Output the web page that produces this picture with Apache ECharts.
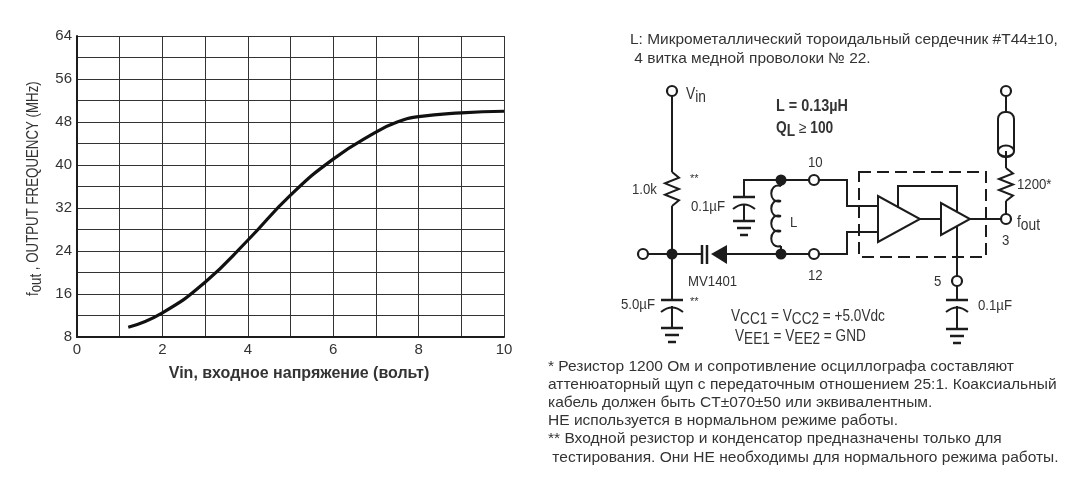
<!DOCTYPE html>
<html><head><meta charset="utf-8">
<style>html,body{margin:0;padding:0;background:#fff}#c{width:1073px;height:480px}</style>
<script src="https://cdn.jsdelivr.net/npm/echarts@6/dist/echarts.min.js"></script></head>
<body><div id="c"></div>
<script>
const vin = [1.2,2,3,4,5,6,7,7.5,8,9,10];
const fout = [9.8,12.5,18.2,26,34.4,41.1,46.1,48,49,49.7,50];
const xTickLabels = [0,2,4,6,8,10];
const yTickLabels = [8,16,24,32,40,48,56,64];
const xName = 'Vin, входное напряжение (вольт)';
const noteTop = ['L: Микрометаллический тороидальный сердечник #T44±10,',' 4 витка медной проволоки № 22.'];
const notes = ['* Резистор 1200 Ом и сопротивление осциллографа составляют',
 'аттенюаторный щуп с передаточным отношением 25:1. Коаксиальный',
 'кабель должен быть CT±070±50 или эквивалентным.',
 'НЕ используется в нормальном режиме работы.',
 '** Входной резистор и конденсатор предназначены только для',
 ' тестирования. Они НЕ необходимы для нормального режима работы.'];

const INK='#1c1c1c', TXT='#333', SANS='"Liberation Sans",sans-serif';
const g=[];
const line=(pts,w=2)=>g.push({type:'polyline',silent:true,shape:{points:pts},style:{stroke:INK,lineWidth:w,fill:null,lineJoin:'miter'}});
const open=(x,y,r=5)=>g.push({type:'circle',shape:{cx:x,cy:y,r},style:{fill:'#fff',stroke:INK,lineWidth:2.2}});
const dot=(x,y)=>g.push({type:'circle',shape:{cx:x,cy:y,r:5.5},style:{fill:INK,stroke:null}});
const txt=(x,y,t,size=15,sx=0.88,o={})=>g.push({type:'text',x,y,scaleX:sx,style:{text:t,font:`${o.bold?'bold ':''}${size}px ${SANS}`,fill:TXT,verticalAlign:'top',align:'left'}});
const rich=(x,y,parts,size=16,sx=0.86,o={})=>g.push(Object.assign({type:'text',x,y,scaleX:sx,style:{text:parts,fill:TXT,verticalAlign:'top',rich:{
  a:{font:`${size}px ${SANS}`,fill:TXT},
  b:{font:`${size}px ${SANS}`,fill:TXT,padding:[6,0,0,0]},
  A:{font:`bold ${size}px ${SANS}`,fill:TXT},
  B:{font:`bold ${size}px ${SANS}`,fill:TXT,padding:[6,0,0,0]}}}},o));
const res=(x,y0,y1)=>{const h=(y1-y0)/6;const p=[[x,y0]];[1,-1,1,-1,1].forEach((s,i)=>p.push([x+s*7,y0+h*(i+1)]));p.push([x,y1]);line(p,2)};
const cap=(x,y,hw=11)=>{line([[x-hw,y],[x+hw,y]],2.5);g.push({type:'bezierCurve',shape:{x1:x-hw,y1:y+12,x2:x+hw,y2:y+12,cpx1:x,cpy1:y+3},style:{stroke:INK,lineWidth:2,fill:null}});};
const gnd=(x,y)=>{line([[x-11,y],[x+11,y]],2.5);line([[x-7,y+7],[x+7,y+7]],2.5);line([[x-4,y+14],[x+4,y+14]],2.5)};

line([[672,96],[672,172]]);res(672,172,206);line([[672,206],[672,300]]);
line([[648,254],[702,254]]);open(643,254);open(672,91);dot(672,254);
cap(672,300);line([[672,306],[672,328]]);gnd(672,328);
line([[702,245],[702,264]],2.5);line([[707,245],[707,264]],2.5);
g.push({type:'polygon',shape:{points:[[711,254],[727,245],[727,264]]},style:{fill:INK}});
line([[727,254],[809,254]]);line([[781,180],[809,180]]);
line([[744,197],[744,180],[781,180]]);cap(744,197);line([[744,205],[744,221]]);gnd(744,221);
for(let i=0;i<4;i++){const y=186+i*15;g.push({type:'bezierCurve',shape:{x1:781,y1:y,cpx1:768,cpy1:y-4,cpx2:768,cpy2:y+19,x2:781,y2:y+15},style:{stroke:INK,lineWidth:2,fill:null}});}
line([[781,180],[781,186]]);line([[781,246],[781,254]]);
dot(781,180);dot(781,254);open(814,180);open(814,254);
line([[819,180],[847,180],[847,206],[878,206]]);line([[819,254],[847,254],[847,232],[878,232]]);
g.push({type:'rect',shape:{x:859,y:172,width:127,height:85},style:{fill:null,stroke:INK,lineWidth:2,lineDash:[12,6]}});
g.push({type:'polygon',shape:{points:[[878,196],[878,242],[920,219]]},style:{fill:'#fff',stroke:INK,lineWidth:2}});
g.push({type:'polygon',shape:{points:[[941,203],[941,235],[970,219]]},style:{fill:'#fff',stroke:INK,lineWidth:2}});
line([[920,219],[941,219]]);line([[970,219],[1001,219]]);
line([[898,208],[898,186],[957,186],[957,211]]);
line([[957,227],[957,276]]);open(957,281);line([[957,286],[957,300]]);cap(957,300);line([[957,306],[957,329]]);gnd(957,329);
open(1006,91);line([[1006,96],[1006,112]]);
g.push({type:'rect',shape:{x:998,y:112,width:16,height:45,r:7},style:{fill:'#fff',stroke:INK,lineWidth:2}});
g.push({type:'ellipse',shape:{cx:1006,cy:151,rx:8,ry:5.5},style:{fill:'#fff',stroke:INK,lineWidth:2}});
line([[1006,151],[1006,168]]);res(1006,168,201);line([[1006,201],[1006,214]]);open(1006,219);

rich(686,84,'{a|V}{b|in}',16);
txt(776,99,'L = 0.13µH',16,0.9,{bold:true});
rich(776,118,'{A|Q}{B|L}{a| ≥ }{A|100}',16);
txt(808,155,'10',15);txt(808,268,'12',15);
txt(632,182,'1.0k',15,0.88);txt(690,173,'**',11,1);
txt(691,199,'0.1µF',15);txt(790,215,'L',15);
txt(688,274,'MV1401',15);txt(621,297,'5.0µF',15);txt(690,296,'**',11,1);
rich(731,306,'{a|V}{b|CC1}{a| = V}{b|CC2}{a| = +5.0Vdc}',16,0.85);
rich(735,326,'{a|V}{b|EE1}{a| = V}{b|EE2}{a| = GND}',16,0.85);
txt(1017,177,'1200*',15,0.88);rich(1017,212,'{a|f}{b|out}',16);txt(1002,233,'3',15);txt(934,274,'5',15);txt(978,298,'0.1µF',15);
noteTop.forEach((t,i)=>txt(630,32+i*19.5,t,15,1.03));
notes.forEach((t,i)=>txt(548,359+i*18.2,t,15,1.035));
rich(23,296,'{a|f}{b|out}{a| , OUTPUT FREQUENCY (MHz)}',16,0.83,{rotation:Math.PI/2});

const chart=echarts.init(document.getElementById('c'),null,{renderer:'canvas'});
chart.setOption({
 animation:false,backgroundColor:'#fff',
 grid:{left:77,right:569,top:36,bottom:143,show:false},
 xAxis:{type:'value',min:0,max:10,interval:1,name:xName,nameLocation:'middle',nameGap:29,
  nameTextStyle:{fontFamily:'Liberation Sans',fontWeight:'bold',fontSize:16,color:TXT,padding:[0,0,0,17]},
  axisLine:{lineStyle:{color:INK,width:2}},axisTick:{show:false},
  axisLabel:{margin:5,color:TXT,fontFamily:'Liberation Sans',fontSize:15,
   formatter:v=>xTickLabels.includes(v)?String(v):''},
  splitLine:{show:true,lineStyle:{color:'#333',width:1}}},
 yAxis:{type:'value',min:8,max:64,interval:4,
  axisLine:{show:true,lineStyle:{color:INK,width:2}},axisTick:{show:false},
  axisLabel:{margin:5,color:TXT,fontFamily:'Liberation Sans',fontSize:15,
   formatter:v=>yTickLabels.includes(v)?String(v):''},
  splitLine:{show:true,lineStyle:{color:'#333',width:1}}},
 series:[{type:'line',data:vin.map((x,i)=>[x,fout[i]]),smooth:0.5,showSymbol:false,lineStyle:{color:'#111',width:3.2}}],
 graphic:{elements:g}
});
</script></body></html>
